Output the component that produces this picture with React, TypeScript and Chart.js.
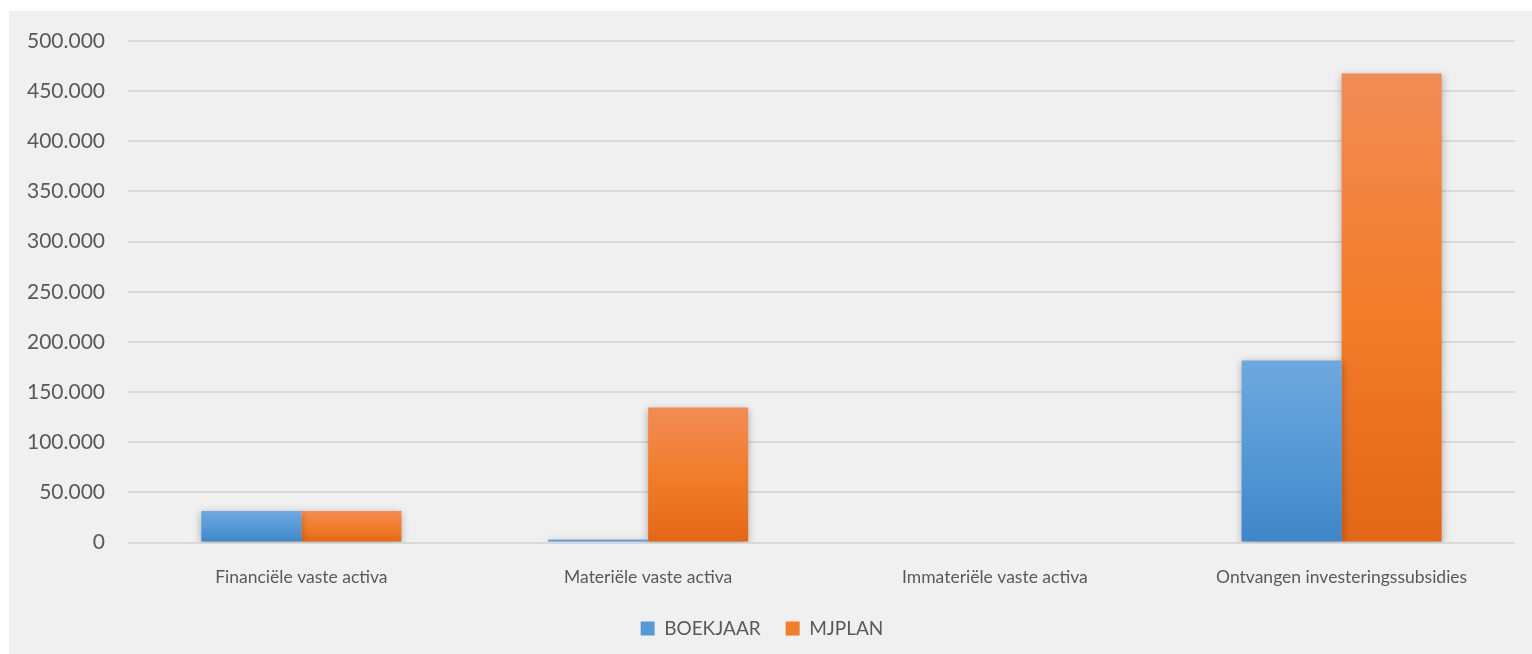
import React, { useEffect, useRef } from "react";
import { Chart, registerables } from "chart.js";

Chart.register(...registerables);

const categories = [
  "Financiële vaste activa",
  "Materiële vaste activa",
  "Immateriële vaste activa",
  "Ontvangen investeringssubsidies",
];
const boekjaar = [31500, 3000, 0, 181500];
const mjplan = [31500, 134500, 0, 467500];
const yTicks = [0, 50000, 100000, 150000, 200000, 250000, 300000, 350000, 400000, 450000, 500000];

const FONT = "Lato, 'Open Sans', sans-serif";

function barGradient(ctx: any, stops: string[]) {
  const chart = ctx.chart;
  const y = chart.scales?.y;
  if (!y || ctx.type !== "data") return stops[1];
  const v = ctx.raw as number;
  const top = y.getPixelForValue(v);
  const bottom = y.getPixelForValue(0);
  if (!isFinite(top) || !isFinite(bottom) || Math.abs(bottom - top) < 1) return stops[1];
  const g = chart.ctx.createLinearGradient(0, top, 0, bottom);
  g.addColorStop(0, stops[0]);
  g.addColorStop(0.5, stops[1]);
  g.addColorStop(1, stops[2]);
  return g;
}

const shadowPlugin = {
  id: "barShadow",
  beforeDatasetsDraw(chart: any) {
    const c = chart.ctx;
    c.save();
    c.shadowColor = "rgba(0,0,0,0.3)";
    c.shadowBlur = 8;
    c.shadowOffsetX = 0;
    c.shadowOffsetY = 2;
  },
  afterDatasetsDraw(chart: any) {
    chart.ctx.restore();
  },
};

export default function App() {
  const ref = useRef<HTMLCanvasElement>(null);
  useEffect(() => {
    if (!ref.current) return;
    const chart = new Chart(ref.current, {
      type: "bar",
      data: {
        labels: categories,
        datasets: [
          {
            label: "BOEKJAAR",
            data: boekjaar,
            backgroundColor: (c: any) => barGradient(c, ["#6fa8de", "#5699d6", "#3f86c8"]),
            borderWidth: 0,
          },
          {
            label: "MJPLAN",
            data: mjplan,
            backgroundColor: (c: any) => barGradient(c, ["#f18c55", "#f27d2a", "#e26717"]),
            borderWidth: 0,
          },
        ],
      },
      plugins: [shadowPlugin],
      options: {
        animation: false,
        responsive: false,
        maintainAspectRatio: false,
        layout: { padding: { top: 30, right: 17, bottom: 6, left: 0 } },
        datasets: { bar: { categoryPercentage: 0.577, barPercentage: 1 } },
        scales: {
          x: {
            afterFit: (s: any) => { s.height = 51.5; },
            grid: { display: false, drawTicks: false },
            border: { display: false },
            ticks: { color: "#595959", font: { family: FONT, size: 17.5 }, padding: 24 },
          },
          y: {
            min: 0,
            max: 500000,
            afterFit: (s: any) => {
              s.width = 119;
              s.paddingTop = 0;
              s.paddingBottom = 0;
            },
            afterBuildTicks: (s: any) => { s.ticks = yTicks.map((v) => ({ value: v })); },
            grid: { color: "#d9d9d9", lineWidth: 2, drawTicks: false },
            border: { display: false },
            ticks: {
              color: "#595959",
              font: { family: FONT, size: 21 },
              padding: 23,
              callback: (v: any) => Number(v).toLocaleString("nl-NL"),
            },
          },
        },
        plugins: {
          legend: {
            position: "bottom",
            labels: {
              color: "#595959",
              font: { family: FONT, size: 19 },
              boxWidth: 14,
              boxHeight: 14,
              padding: 25,
              generateLabels: (ch: any) =>
                ch.data.datasets.map((d: any, i: number) => ({
                  text: d.label,
                  fillStyle: i === 0 ? "#5699d6" : "#f27d2a",
                  strokeStyle: "transparent",
                  lineWidth: 0,
                  datasetIndex: i,
                  fontColor: "#595959",
                })),
            },
          },
          tooltip: { enabled: false },
        },
      },
    });
    return () => chart.destroy();
  }, []);
  return (
    <div style={{ position: "absolute", left: 9, top: 11, width: 1523, height: 643, background: "#f0f0f0", overflow: "hidden" }}>
      <canvas ref={ref} width={1523} height={643} style={{ display: "block" }} />
    </div>
  );
}
